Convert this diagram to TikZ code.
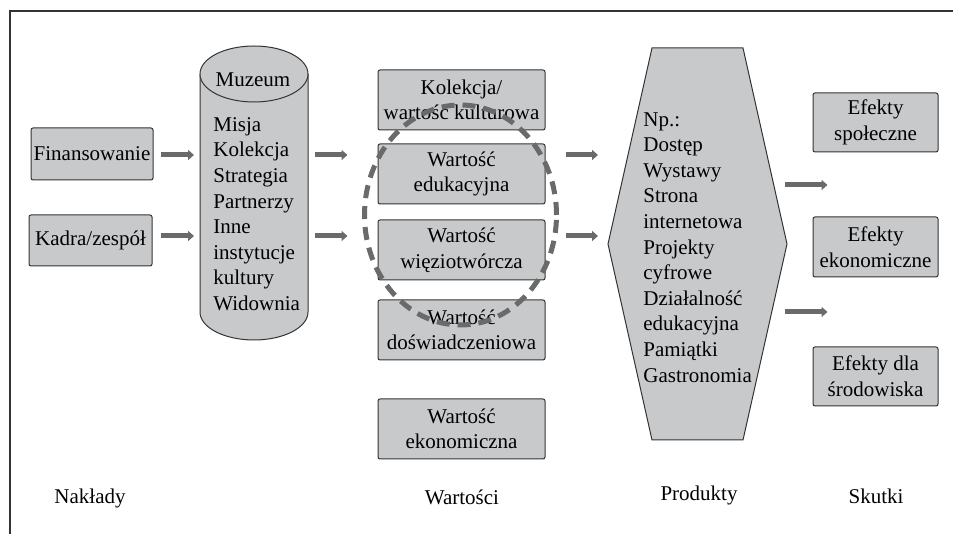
\documentclass[tikz,border=0pt]{standalone}
\usepackage{fontspec}
\setmainfont{Liberation Serif}
\usetikzlibrary{arrows.meta, positioning}
\definecolor{boxgray}{HTML}{C8C9CB}
\definecolor{flowgray}{HTML}{6A6A6A}
\definecolor{framegray}{HTML}{333333}
\tikzset{
  boxtxt/.style  = {font=\fontsize{10.5}{12.8}\selectfont},
  card/.style    = {rectangle, rounded corners=1pt, draw=framegray, line width=0.5pt,
                    fill=boxgray, align=center, inner sep=0pt, boxtxt},
  valbox/.style  = {card, minimum width=83.5pt, minimum height=30pt},
  effbox/.style  = {card, minimum width=62.5pt, minimum height=29.5pt},
  shell/.style   = {draw=framegray, line width=0.5pt, fill=boxgray},
  listtxt/.style = {boxtxt, align=left, inner sep=0pt, anchor=north west},
  colhead/.style = {boxtxt, anchor=base},
  flow/.style    = {-{Triangle[length=3pt,width=5pt]}, line width=2.5pt, draw=flowgray},
  ghost/.style   = {inner sep=0pt, outer sep=0pt},
}

\begin{document}
\begin{tikzpicture}[x=0.5pt, y=0.5pt]
  \useasboundingbox (0,0) rectangle (953,534);
  \draw[framegray, line width=1pt] (10,0) -- (10,523) -- (953,523);

  % heights of the flow arrows
  \coordinate (rowA) at (0,379);
  \coordinate (rowB) at (0,298);
  \coordinate (rowC) at (0,349);
  \coordinate (rowD) at (0,222);

  % inputs
  \node[card, minimum width=61pt, minimum height=26pt] (fin) at (92,380) {Finansowanie};
  \node[card, minimum width=61.5pt, minimum height=25.5pt] (kad) at (90.5,293.5) {Kadra/zespół};

  % museum cylinder
  \node[ghost, minimum width=54pt, minimum height=147pt] (muz) at (254,341) {};
  \fill[boxgray] (200,460) -- (200,222)
    arc[start angle=180, end angle=360, x radius=27pt, y radius=14pt] -- (308,460) -- cycle;
  \draw[framegray, line width=0.5pt] (200,460) -- (200,222)
    arc[start angle=180, end angle=360, x radius=27pt, y radius=14pt] -- (308,460);
  \draw[shell] (254,460) ellipse [x radius=27pt, y radius=14pt];
  \node[boxtxt] (muzhead) at (253,454) {Muzeum};
  \node[listtxt] (muzlist) at (213,417) {Misja\\Kolekcja\\Strategia\\Partnerzy\\Inne\\instytucje\\kultury\\Widownia};

  % values
  \node[valbox] (kol) at (461.5,434) {Kolekcja/\\wartość kulturowa};
  \node[valbox, below=6.5pt of kol] (edu) {Wartość\\edukacyjna};
  \node[valbox, below=7.5pt of edu] (wiez) {Wartość\\więziotwórcza};
  \node[valbox, below=9.5pt of wiez] (dosw) {Wartość\\doświadczeniowa};
  \node[valbox, below=19pt of dosw] (ekw) {Wartość\\ekonomiczna};

  % products
  \node[ghost, minimum width=89.5pt, minimum height=196pt] (prod) at (697.5,290) {};
  \draw[shell] (652,486) -- (743,486) -- (prod.east) -- (743,94) -- (652,94) -- (prod.west) -- cycle;
  \node[listtxt] (prodlist) at (643,422) {Np.:\\Dostęp\\Wystawy\\Strona\\internetowa\\Projekty\\cyfrowe\\Działalność\\edukacyjna\\Pamiątki\\Gastronomia};

  % effects
  \node[effbox] (spol) at (875.5,411.5) {Efekty\\społeczne};
  \node[effbox, minimum height=30pt, below=32pt of spol] (eke) {Efekty\\ekonomiczne};
  \node[effbox, below=34.5pt of eke] (srod) {Efekty dla\\środowiska};

  % flows
  \draw[flow, shorten <=3.5pt, shorten >=3pt] (fin.east |- rowA) -- (muz.west |- rowA);
  \draw[flow, shorten <=4pt, shorten >=3pt] (kad.east |- rowB) -- (muz.west |- rowB);
  \draw[flow, shorten <=3.5pt, shorten >=15pt] (muz.east |- rowA) -- (kol.west |- rowA);
  \draw[flow, shorten <=3.5pt, shorten >=15pt] (muz.east |- rowB) -- (kol.west |- rowB);
  \draw[flow, shorten <=10pt, shorten >=5pt] (kol.east |- rowA) -- (prod.west |- rowA);
  \draw[flow, shorten <=10pt, shorten >=5pt] (kol.east |- rowB) -- (prod.west |- rowB);
  \draw[flow, shorten <=-1pt, shorten >=-7.5pt] (prod.east |- rowC) -- (spol.west |- rowC);
  \draw[flow, shorten <=-1pt, shorten >=-7.5pt] (prod.east |- rowD) -- (spol.west |- rowD);

  % column heads
  \node[colhead] (hin) at (90,30) {Nakłady};
  \node[colhead] (hval) at (462,29) {Wartości};
  \node[colhead] (hprod) at (699,33) {Produkty};
  \node[colhead] (heff) at (876,30) {Skutki};

  % core values
  \draw[flowgray, line width=2.5pt, dash pattern=on 6.5pt off 4pt] (460.5,319) ellipse [x radius=48pt, y radius=55pt];
\end{tikzpicture}
\end{document}
